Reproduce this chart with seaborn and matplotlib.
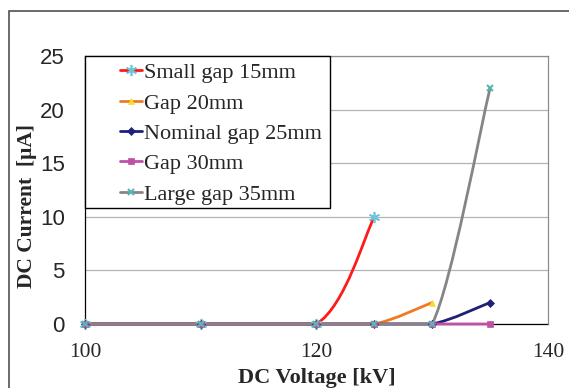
import matplotlib
matplotlib.use("Agg")
import matplotlib.pyplot as plt
import seaborn as sns
from matplotlib.path import Path
from matplotlib.patches import PathPatch, Rectangle
from matplotlib.lines import Line2D

# measured points (kV, uA)
voltage = [100, 110, 120, 125, 130, 135]
small_gap_15 = [0, 0, 0, 10]
gap_20 = [0, 0, 0, 0, 2]
nominal_gap_25 = [0, 0, 0, 0, 0, 2]
gap_30 = [0, 0, 0, 0, 0, 0]
large_gap_35 = [0, 0, 0, 0, 0, 22]

labels = ["Small gap 15mm", "Gap 20mm", "Nominal gap 25mm", "Gap 30mm", "Large gap 35mm"]
series = [small_gap_15, gap_20, nominal_gap_25, gap_30, large_gap_35]
line_colors = ["#ff1a1a", "#f07a22", "#1f2078", "#c04fa6", "#858585"]
marker_styles = [
    dict(marker=(6, 2, 0), ms=8, mec="#6cc4d8", mfc="#6cc4d8", mew=1.2),
    dict(marker="^", ms=5, mec="#f4dc30", mfc="#f4dc30", mew=0.5),
    dict(marker="D", ms=4, mec="#1f2078", mfc="#1f2078", mew=0.5),
    dict(marker="s", ms=5, mec="#c04fa6", mfc="#c04fa6", mew=0.5),
    dict(marker="x", ms=4, mec="#59b6b0", mfc="#59b6b0", mew=1.5),
]

sns.set_theme(style="white")
plt.rcParams["font.family"] = ["Liberation Serif", "DejaVu Serif"]


def smooth_path(xs, ys):
    # Excel-like smoothed line: Catmull-Rom bezier, no overshoot
    pts = list(zip(xs, ys))
    verts = [pts[0]]
    codes = [Path.MOVETO]
    n = len(pts)
    for i in range(n - 1):
        p0 = pts[i - 1] if i > 0 else pts[i]
        p1, p2 = pts[i], pts[i + 1]
        p3 = pts[i + 2] if i + 2 < n else pts[i + 1]
        lo, hi = min(p1[1], p2[1]), max(p1[1], p2[1])
        c1 = (p1[0] + (p2[0] - p0[0]) / 6, min(max(p1[1] + (p2[1] - p0[1]) / 6, lo), hi))
        c2 = (p2[0] - (p3[0] - p1[0]) / 6, min(max(p2[1] - (p3[1] - p1[1]) / 6, lo), hi))
        verts += [c1, c2, p2]
        codes += [Path.CURVE4] * 3
    return Path(verts, codes)


fig = plt.figure(figsize=(5.69, 3.88), dpi=100)
ax = fig.add_axes([0.1494, 0.165, 0.8136, 0.6907])

# outer frame of the figure
fig.patches.append(Rectangle((8.5 / 569, -0.5), 2.0, 1.5 - 10.5 / 388,
                             transform=fig.transFigure, fill=False,
                             edgecolor="#505050", lw=1.2))

for ys, col, ms in zip(series, line_colors, marker_styles):
    xs = voltage[:len(ys)]
    ax.add_patch(PathPatch(smooth_path(xs, ys), facecolor="none", edgecolor=col,
                           lw=2.0, clip_on=False, zorder=3, capstyle="round"))
    sns.lineplot(x=xs, y=ys, ax=ax, linestyle="", legend=False, zorder=4,
                 clip_on=False, color=col, **ms)

ax.set_xlim(100, 140)
ax.set_ylim(0, 25)
ax.set_xticks([100, 120, 140])
ax.set_yticks([0, 5, 10, 15, 20, 25])
ax.yaxis.grid(True, color="#b4b4b4", lw=0.9)
ax.set_axisbelow(True)

for side in ["top", "right"]:
    ax.spines[side].set_color("#8c8c8c")
    ax.spines[side].set_linewidth(0.9)
for side in ["left", "bottom"]:
    ax.spines[side].set_color("black")
    ax.spines[side].set_linewidth(0.9)
    ax.spines[side].set_zorder(2)

ax.tick_params(axis="y", direction="out", length=4.5, width=0.8, color="#8c8c8c",
               pad=10, labelsize=16)
ax.tick_params(axis="x", direction="out", length=5, width=0.8, color="#8c8c8c",
               pad=8.5, labelsize=15.5)
for t in ax.get_yticklabels():
    t.set_fontfamily(["Liberation Sans", "DejaVu Sans"])

ax.set_xlabel("DC Voltage [kV]", fontsize=16, fontweight="bold")
ax.set_ylabel("DC Current  [µA]", fontsize=15.5, fontweight="bold")
ax.xaxis.set_label_coords(0.5, -0.165)
ax.yaxis.set_label_coords(-0.104, 0.44)

# legend box
ax.add_patch(Rectangle((0, 0.433), 0.529, 0.567, transform=ax.transAxes,
                       facecolor="white", edgecolor="black", lw=1.0, zorder=5,
                       clip_on=False))
handles = [Line2D([], [], color=c, lw=2, **m) for c, m in zip(line_colors, marker_styles)]
leg = ax.legend(handles, labels, loc="upper left", bbox_to_anchor=(0.075, 0.975),
                frameon=False, fontsize=16, handlelength=1.0, handletextpad=0.1,
                labelspacing=0.44, borderpad=0, borderaxespad=0)
leg.set_zorder(6)

fig.savefig("out.png", dpi=100)
